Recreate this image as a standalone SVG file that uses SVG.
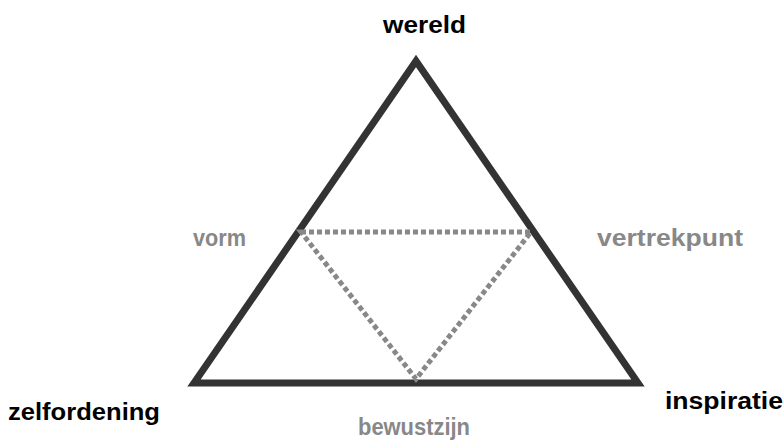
<svg xmlns="http://www.w3.org/2000/svg" width="784" height="441" viewBox="0 0 784 441">
<style>
.lbl{font-family:"Liberation Sans",Arial,sans-serif;font-weight:bold;font-size:23px}
.dark{fill:#000}
.gray{fill:#888}
.outer{fill:none;stroke:#333;stroke-width:7;stroke-linejoin:miter}
.inner{fill:none;stroke:#888;stroke-width:5;stroke-dasharray:5 3}
</style>
<rect width="784" height="441" fill="#fff"/>
<g id="connectors">
<polygon class="outer" points="416,61 194,383 638,383"/>
<polygon class="inner" points="301,232 531,232 416,379"/>
</g>
<g id="wereld"><text class="lbl dark" x="383" y="33" textLength="83" lengthAdjust="spacingAndGlyphs">wereld</text></g>
<g id="vorm"><text class="lbl gray" x="193" y="246" textLength="53" lengthAdjust="spacingAndGlyphs">vorm</text></g>
<g id="vertrekpunt"><text class="lbl gray" x="597" y="246" textLength="146" lengthAdjust="spacingAndGlyphs">vertrekpunt</text></g>
<g id="zelfordening"><text class="lbl dark" x="8" y="420" textLength="152" lengthAdjust="spacingAndGlyphs">zelfordening</text></g>
<g id="bewustzijn"><text class="lbl gray" x="358" y="435" textLength="112" lengthAdjust="spacingAndGlyphs">bewustzijn</text></g>
<g id="inspiratie"><text class="lbl dark" x="665" y="409" textLength="118" lengthAdjust="spacingAndGlyphs">inspiratie</text></g>
</svg>
